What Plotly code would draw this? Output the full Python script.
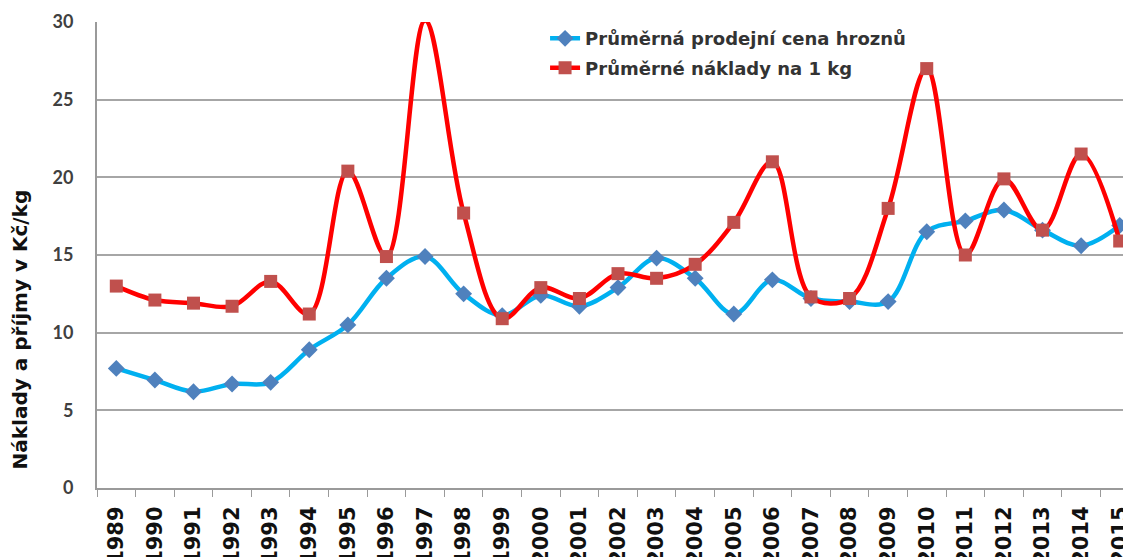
import plotly.graph_objects as go

years = [str(y) for y in range(1989, 2016)]

cena = [7.7, 6.95, 6.2, 6.7, 6.8, 8.9, 10.5, 13.5, 14.9, 12.5, 11.1, 12.4, 11.7, 12.9,
        14.8, 13.5, 11.2, 13.4, 12.2, 12.0, 12.0, 16.5, 17.2, 17.9, 16.6, 15.6, 16.9]

naklady = [13.0, 12.1, 11.9, 11.7, 13.3, 11.2, 20.4, 14.9, 30.1, 17.7, 10.9, 12.9, 12.2, 13.8,
           13.5, 14.4, 17.1, 21.0, 12.3, 12.2, 18.0, 27.0, 15.0, 19.9, 16.6, 21.5, 15.9]

fig = go.Figure()

fig.add_trace(
    go.Scatter(
        x=years,
        y=cena,
        mode="lines+markers",
        name="Průměrná prodejní cena hroznů",
        legendgroup="a",
        cliponaxis=False,
        line=dict(color="#00B0F0", width=4.5, shape="spline", smoothing=1),
        marker=dict(symbol="diamond", size=13, color="#4F81BD"),
    )
)

fig.add_trace(
    go.Scatter(
        x=years,
        y=naklady,
        mode="lines+markers",
        name="Průměrné náklady na 1 kg",
        legendgroup="b",
        cliponaxis=False,
        line=dict(color="#FF0000", width=4.5, shape="spline", smoothing=1),
        marker=dict(symbol="square", size=13, color="#C0504D"),
    )
)

# popisek osy y je posunutý níž než střed grafu, proto anotace
fig.add_annotation(
    text="Náklady a příjmy v Kč/kg",
    xref="paper",
    yref="paper",
    x=-0.074,
    y=0.34,
    xanchor="center",
    yanchor="middle",
    textangle=-90,
    showarrow=False,
    font=dict(size=20, family="DejaVu Sans", weight="bold", color="#111111"),
)

fig.update_layout(
    width=1131,
    height=557,
    margin=dict(l=89, r=0, t=14, b=77),
    plot_bgcolor="white",
    paper_bgcolor="white",
    font=dict(family="Lato", color="#404040"),
    showlegend=True,
    legend=dict(
        x=0.43,
        y=1.004,
        xanchor="left",
        yanchor="top",
        bgcolor="rgba(0,0,0,0)",
        font=dict(size=18, family="DejaVu Sans", weight="bold", color="#333333"),
        tracegroupgap=3,
    ),
    xaxis=dict(
        type="category",
        tickangle=-90,
        tickfont=dict(size=21, family="DejaVu Sans", weight="bold", color="#111111"),
        ticklabelstandoff=8,
        showgrid=False,
        showline=True,
        linecolor="#9a9a9a",
        linewidth=2,
        ticks="outside",
        tickson="boundaries",
        ticklen=7,
        tickcolor="#9a9a9a",
        automargin=False,
        range=[-0.5, 26.5],
    ),
    yaxis=dict(
        range=[0, 30],
        dtick=5,
        showgrid=True,
        gridcolor="#a6a6a6",
        gridwidth=2,
        showline=True,
        linecolor="#9a9a9a",
        linewidth=2,
        zeroline=False,
        tickfont=dict(size=18, family="Lato", weight="bold", color="#404040"),
        ticklabelstandoff=18,
        automargin=False,
    ),
)

fig.write_html("out.html")
